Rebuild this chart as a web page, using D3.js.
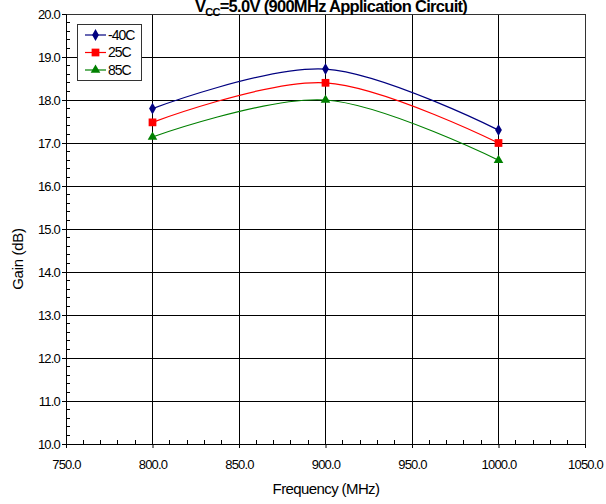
<!DOCTYPE html>
<html>
<head>
<meta charset="utf-8">
<script src="https://cdn.jsdelivr.net/npm/d3@7"></script>
<style>
  body { margin: 0; background: #fff; }
  svg text { font-family: "Liberation Sans", Arial, sans-serif; fill: #000; }
</style>
</head>
<body>
<svg id="chart" width="606" height="504"></svg>
<script>
// chart data
const frequencies = [800, 900, 1000];
const gainM40 = [17.8, 18.72, 17.3];
const gain25 = [17.48, 18.4, 17.0];
const gain85 = [17.14, 18.0, 16.6];
const seriesNames = ['-40C', '25C', '85C'];
const xTicks = [750, 800, 850, 900, 950, 1000, 1050];
const yTicks = [10, 11, 12, 13, 14, 15, 16, 17, 18, 19, 20];

const margin = { top: 14, right: 21, bottom: 60, left: 66 };
const width = 606 - margin.left - margin.right;
const height = 504 - margin.top - margin.bottom;

const svg = d3.select('#chart');
const g = svg.append('g')
  .attr('transform', `translate(${margin.left},${margin.top})`);

const x = d3.scaleLinear().domain([750, 1050]).range([0, width]);
const y = d3.scaleLinear().domain([10, 20]).range([height, 0]);

// grid
g.append('g').selectAll('line')
  .data(xTicks.slice(1))
  .join('line')
  .attr('x1', d => x(d)).attr('x2', d => x(d))
  .attr('y1', 0).attr('y2', height)
  .attr('stroke', '#000').attr('stroke-width', 1)
  .attr('shape-rendering', 'crispEdges');

g.append('g').selectAll('line')
  .data(yTicks.slice(1))
  .join('line')
  .attr('x1', 0).attr('x2', width)
  .attr('y1', d => y(d)).attr('y2', d => y(d))
  .attr('stroke', '#000').attr('stroke-width', 1)
  .attr('shape-rendering', 'crispEdges');

// frame
g.append('rect')
  .attr('width', width).attr('height', height)
  .attr('fill', 'none').attr('stroke', '#333')
  .attr('shape-rendering', 'crispEdges');

// minor ticks, drawn inside the plot
const xMinor = d3.range(750, 1051, 10).filter(v => v % 50 !== 0);
g.append('g').selectAll('line')
  .data(xMinor)
  .join('line')
  .attr('x1', d => x(d)).attr('x2', d => x(d))
  .attr('y1', height).attr('y2', height - 4)
  .attr('stroke', '#000').attr('shape-rendering', 'crispEdges');

const yMinor = d3.range(10, 20.01, 0.2).filter(v => Math.abs(v - Math.round(v)) > 0.01);
g.append('g').selectAll('line')
  .data(yMinor)
  .join('line')
  .attr('x1', 0).attr('x2', 4)
  .attr('y1', d => y(d)).attr('y2', d => y(d))
  .attr('stroke', '#000').attr('shape-rendering', 'crispEdges');

// axes
const xAxis = g.append('g')
  .attr('transform', `translate(0,${height})`)
  .call(d3.axisBottom(x).tickValues(xTicks).tickSize(4).tickPadding(12).tickFormat(d3.format('.1f')));
const yAxis = g.append('g')
  .call(d3.axisLeft(y).tickValues(yTicks).tickSize(4).tickPadding(2).tickFormat(d3.format('.1f')));

[xAxis, yAxis].forEach(a => {
  a.select('.domain').attr('stroke', '#000');
  a.selectAll('.tick line').attr('stroke', '#000');
  a.selectAll('text')
    .attr('font-family', '"Liberation Sans", Arial, sans-serif')
    .attr('font-size', 13)
    .attr('letter-spacing', '-0.8px')
    .attr('fill', '#000');
});

// series
const series = [
  { name: seriesNames[0], values: gainM40, color: '#000080', symbol: d3.symbolDiamond, size: 40 },
  { name: seriesNames[1], values: gain25, color: '#ff0000', symbol: d3.symbolSquare, size: 60 },
  { name: seriesNames[2], values: gain85, color: '#008000', symbol: d3.symbolTriangle, size: 40 }
];

const line = d3.line()
  .x((d, i) => x(frequencies[i]))
  .y(d => y(d))
  .curve(d3.curveCardinal.tension(0));

series.forEach(s => {
  g.append('path')
    .datum(s.values)
    .attr('fill', 'none')
    .attr('stroke', s.color)
    .attr('stroke-width', 1.2)
    .attr('d', line);

  g.append('g').selectAll('path')
    .data(s.values)
    .join('path')
    .attr('transform', (d, i) => `translate(${x(frequencies[i])},${y(d)})`)
    .attr('d', d3.symbol().type(s.symbol).size(s.size))
    .attr('fill', s.color);
});

// legend
const legend = svg.append('g').attr('transform', 'translate(77,24)');
legend.append('rect')
  .attr('width', 64).attr('height', 56)
  .attr('fill', '#fff').attr('stroke', '#333')
  .attr('shape-rendering', 'crispEdges');
series.forEach((s, i) => {
  const row = legend.append('g').attr('transform', `translate(0,${11 + i * 17.5})`);
  row.append('line')
    .attr('x1', 8).attr('x2', 29)
    .attr('stroke', s.color).attr('stroke-width', 1.2);
  row.append('path')
    .attr('transform', 'translate(18.5,0)')
    .attr('d', d3.symbol().type(s.symbol).size(s.size))
    .attr('fill', s.color);
  row.append('text')
    .attr('x', 31).attr('dy', '0.35em')
    .attr('font-size', 14)
    .attr('letter-spacing', '-1px')
    .text(s.name);
});

// title
const title = svg.append('text')
  .attr('x', 331).attr('y', 12)
  .attr('text-anchor', 'middle')
  .attr('font-size', 16.5)
  .attr('font-weight', 'bold')
  .attr('letter-spacing', '-0.7px');
title.append('tspan').text('V');
title.append('tspan').attr('dy', 4).attr('font-size', 11).text('CC');
title.append('tspan').attr('dy', -4).text('=5.0V (900MHz Application Circuit)');

// axis titles
svg.append('text')
  .attr('x', 326).attr('y', 494)
  .attr('text-anchor', 'middle')
  .attr('font-size', 15)
  .attr('letter-spacing', '-0.6px')
  .text('Frequency (MHz)');

svg.append('text')
  .attr('transform', 'translate(23,259) rotate(-90)')
  .attr('text-anchor', 'middle')
  .attr('font-size', 15)
  .attr('letter-spacing', '-0.3px')
  .text('Gain (dB)');
</script>
</body>
</html>
